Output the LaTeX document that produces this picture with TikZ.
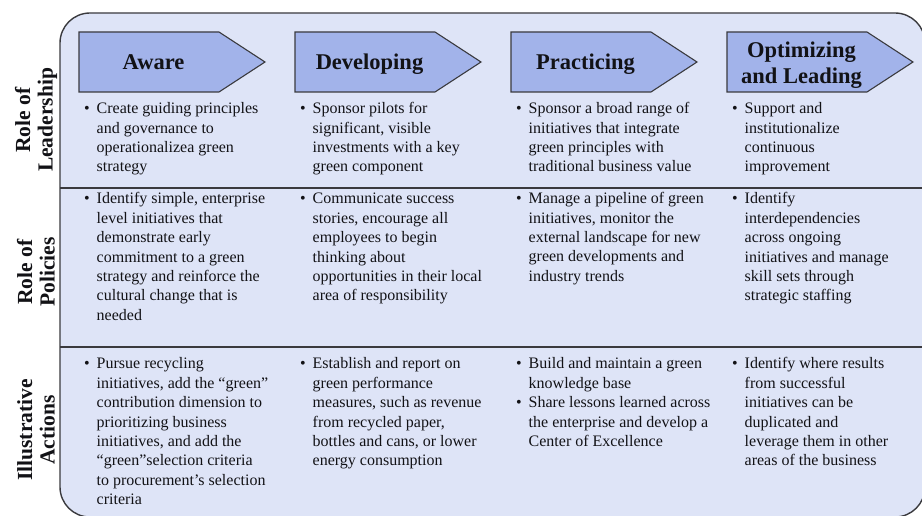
\documentclass[tikz,border=0pt]{standalone}
\usepackage{fontspec}
\setmainfont{Liberation Serif}
\definecolor{framefill}{RGB}{222,228,247}
\definecolor{stagefill}{RGB}{162,179,234}
\definecolor{edge}{RGB}{58,58,62}
\definecolor{ink}{RGB}{18,18,22}
\newcommand\cellfont{\fontsize{16}{19.4}\selectfont}
\newcommand\stagefont{\fontsize{22.5}{26}\selectfont\bfseries}
\newcommand\rowfont{\fontsize{21.5}{22.5}\selectfont\bfseries}
\newcommand\firstline{\rule{0pt}{12pt}}
\newcommand\firsthead{\rule{0pt}{17pt}}
\tikzset{
  frame/.style={draw=edge, line width=1.4pt, fill=framefill, rounded corners=30pt},
  rowsep/.style={draw=edge, line width=1.6pt},
  stagebox/.style={draw=edge, line width=1.1pt, fill=stagefill, line join=miter},
  stagetext/.style={font=\stagefont, text=ink, align=center, anchor=north, inner sep=0pt},
  cell/.style={font=\cellfont, text=ink, align=left, anchor=north west, inner sep=0pt},
  bullet/.style={font=\cellfont, text=ink, anchor=base west, inner sep=0pt},
  rowlabel/.style={font=\rowfont, text=ink, align=center, rotate=90, inner sep=0pt}
}
\begin{document}
\begin{tikzpicture}[x=1pt, y={(0pt,-1pt)}]
\useasboundingbox (0,0) rectangle (922,516);
\clip (0,0) rectangle (922,516);

% outer rounded panel and row dividers
\path[frame] (60,13) rectangle (925,517);
\draw[rowsep] (60,188) -- (922,188);
\draw[rowsep] (60,347) -- (922,347);

% stage arrows along the top
\foreach \x/\nm in {79/aware, 295/developing, 511/practicing, 727/optimizing} {
  \draw[stagebox] (\x,32) -- ++(140,0) -- ++(46,30) -- ++(-46,30) -- ++(-140,0) -- cycle;
}
\node[stagetext] (hAware) at (153.5,52.5) {\firsthead Aware};
\node[stagetext] (hDeveloping) at (369.5,52.5) {\firsthead Developing};
\node[stagetext] (hPracticing) at (585.5,52.5) {\firsthead Practicing};
\node[stagetext] (hOptimizing) at (801.5,40.5) {\firsthead Optimizing\\and Leading};

% row labels
\node[rowlabel] (lLeadership) at (36,120) {Role of\\Leadership};
\node[rowlabel] (lPolicies) at (36,272) {Role of\\Policies};
\node[rowlabel] (lActions) at (36,430) {Illustrative\\Actions};

% row 1: role of leadership
\node[bullet] (b11) at (84,113.6) {\textbullet};
\node[cell] (c11) at (96.5,101.6) {\firstline Create guiding principles\\and governance to\\operationalizea green\\strategy};
\node[bullet] (b12) at (300,113.6) {\textbullet};
\node[cell] (c12) at (312.5,101.6) {\firstline Sponsor pilots for\\significant, visible\\investments with a key\\green component};
\node[bullet] (b13) at (516,113.6) {\textbullet};
\node[cell] (c13) at (528.5,101.6) {\firstline Sponsor a broad range of\\initiatives that integrate\\green principles with\\traditional business value};
\node[bullet] (b14) at (732,113.6) {\textbullet};
\node[cell] (c14) at (744.5,101.6) {\firstline Support and\\institutionalize\\continuous\\improvement};

% row 2: role of policies
\node[bullet] (b21) at (84,203.6) {\textbullet};
\node[cell] (c21) at (96.5,191.6) {\firstline Identify simple, enterprise\\level initiatives that\\demonstrate early\\commitment to a green\\strategy and reinforce the\\cultural change that is\\needed};
\node[bullet] (b22) at (300,203.6) {\textbullet};
\node[cell] (c22) at (312.5,191.6) {\firstline Communicate success\\stories, encourage all\\employees to begin\\thinking about\\opportunities in their local\\area of responsibility};
\node[bullet] (b23) at (516,203.6) {\textbullet};
\node[cell] (c23) at (528.5,191.6) {\firstline Manage a pipeline of green\\initiatives, monitor the\\external landscape for new\\green developments and\\industry trends};
\node[bullet] (b24) at (732,203.6) {\textbullet};
\node[cell] (c24) at (744.5,191.6) {\firstline Identify\\interdependencies\\across ongoing\\initiatives and manage\\skill sets through\\strategic staffing};

% row 3: illustrative actions
\node[bullet] (b31) at (84,368.6) {\textbullet};
\node[cell] (c31) at (96.5,356.6) {\firstline Pursue recycling\\initiatives, add the “green”\\contribution dimension to\\prioritizing business\\initiatives, and add the\\“green”selection criteria\\to procurement’s selection\\criteria};
\node[bullet] (b32) at (300,368.6) {\textbullet};
\node[cell] (c32) at (312.5,356.6) {\firstline Establish and report on\\green performance\\measures, such as revenue\\from recycled paper,\\bottles and cans, or lower\\energy consumption};
\node[bullet] (b33) at (516,368.6) {\textbullet};
\node[bullet] (b33b) at (516,407.4) {\textbullet};
\node[cell] (c33) at (528.5,356.6) {\firstline Build and maintain a green\\knowledge base\\Share lessons learned across\\the enterprise and develop a\\Center of Excellence};
\node[bullet] (b34) at (732,368.6) {\textbullet};
\node[cell] (c34) at (744.5,356.6) {\firstline Identify where results\\from successful\\initiatives can be\\duplicated and\\leverage them in other\\areas of the business};
\end{tikzpicture}
\end{document}
